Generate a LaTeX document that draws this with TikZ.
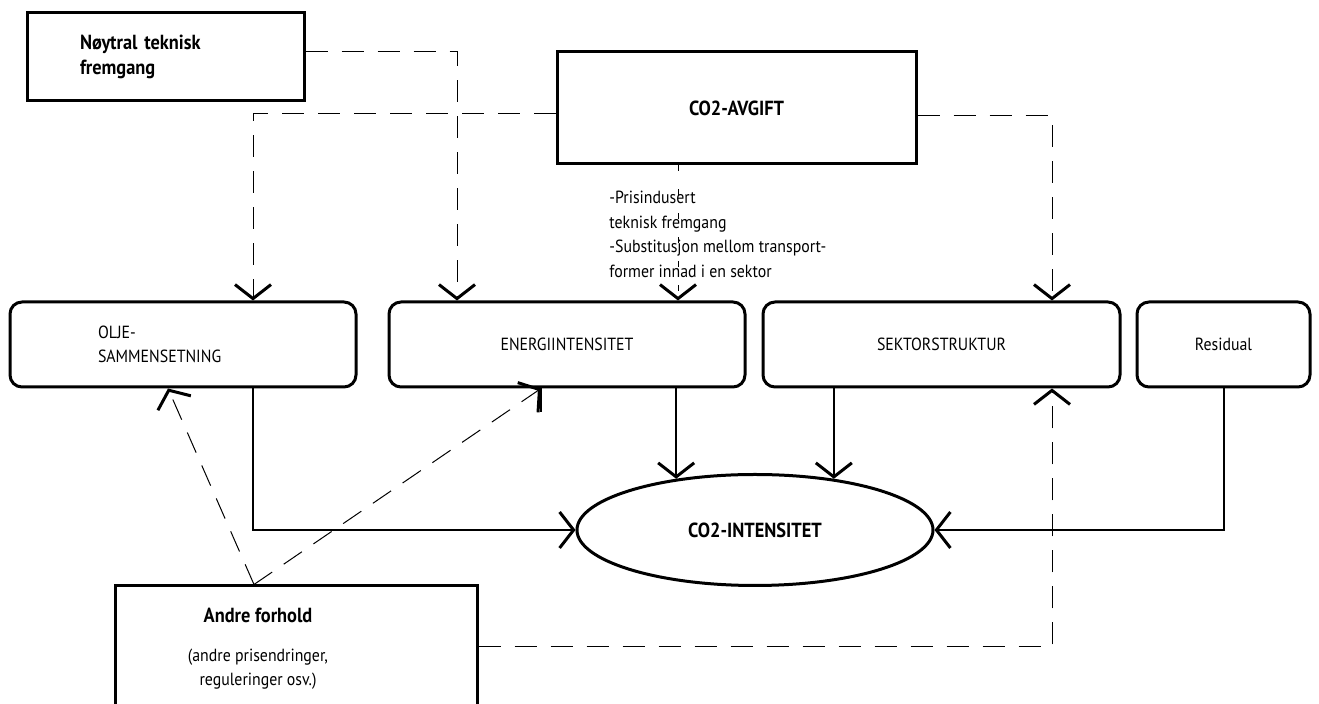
\documentclass[tikz,border=0pt]{standalone}
\usepackage{fontspec}
\setmainfont{PT Sans}[FakeStretch=0.9]
\usetikzlibrary{arrows.meta,positioning,shapes}

\tikzset{
  box/.style={draw, rectangle, line width=1.5pt, inner sep=0pt},
  rbox/.style={draw, rectangle, rounded corners=6pt, line width=1.5pt, minimum height=42.5pt, inner sep=0pt},
  heavy/.style={font=\fontsize{10.2}{12.5}\selectfont\bfseries},
  tip/.style={-{Straight Barb[length=7pt,width=18pt,line width=1.5pt]}},
  conn/.style={tip, line width=1pt},
  dashconn/.style={tip, line width=0.5pt, dash pattern=on 11pt off 7pt},
}

\begin{document}
\begin{tikzpicture}[x=0.5pt, y=-0.5pt, font=\fontsize{8.8}{12.25}\selectfont]
  \clip (0,0) rectangle (1319,704);

  % upper boxes
  \node[box, heavy, minimum width=138.5pt, minimum height=44pt, text width=85.5pt, align=left, inner xsep=26.5pt] (noytral) at (165.5,57) {Nøytral teknisk\\fremgang};
  \node[box, heavy, minimum width=179.5pt, minimum height=56pt] (avgift) at (736.5,108) {CO2-AVGIFT};
  \node[anchor=west, align=left, inner sep=0pt] (tiltak) at (609,234.5) {-Prisindusert\\teknisk fremgang\\-Substitusjon mellom transport-\\former innad i en sektor};

  % components
  \node[rbox, minimum width=173pt, text width=85pt, align=left, inner xsep=44pt] (olje) at (183,344.5) {OLJE-\\SAMMENSETNING};
  \node[rbox, minimum width=178pt] (energi) at (567,344.5) {ENERGIINTENSITET};
  \node[rbox, minimum width=178.5pt] (sektor) at (941.5,344.5) {SEKTORSTRUKTUR};
  \node[rbox, minimum width=86.5pt] (residual) at (1223.5,344.5) {Residual};

  \node[draw, ellipse, heavy, line width=1.5pt, minimum width=178pt, minimum height=55.5pt, inner sep=0pt] (intensitet) at (755,530) {CO2-INTENSITET};

  \node[box, minimum width=181pt, minimum height=72pt] (andre) at (296,658) {};
  \node[align=center, inner sep=0pt] (andretekst) at (258,649) {{\fontsize{10.2}{12.5}\selectfont\bfseries Andre forhold}\\[7pt](andre prisendringer,\\reguleringer osv.)};

  % dashed influences
  \draw[dashconn] ([yshift=2.5pt]noytral.east) -| ([xshift=-55pt]energi.north);
  \draw[dashconn] ([yshift=-3pt]avgift.west) -| ([xshift=35pt]olje.north);
  \draw[dashconn] ([yshift=-4pt]avgift.east) -| ([xshift=55.25pt]sektor.north);
  \draw[dashconn, dash pattern=on 3pt off 9pt] ([xshift=55.5pt]energi.north |- avgift.south) -- ([xshift=55.5pt]energi.north);
  \draw[dashconn] ([xshift=-21pt]andre.north) -- ([xshift=-7.5pt]olje.south);
  \draw[dashconn] ([xshift=-21pt]andre.north) -- ([xshift=-13pt]energi.south);
  \draw[line width=1pt] ([xshift=-13pt]energi.south) -- ++(0,24);
  \draw[dashconn] ([yshift=5.5pt]andre.east) -| ([xshift=55.25pt]sektor.south);

  % solid links
  \draw[conn] ([xshift=35pt]olje.south) |- (intensitet.west);
  \draw[conn] (intensitet.147 |- energi.south) -- (intensitet.147);
  \draw[conn] (intensitet.33 |- sektor.south) -- (intensitet.33);
  \draw[conn] (residual.south) |- (intensitet.east);
\end{tikzpicture}
\end{document}
